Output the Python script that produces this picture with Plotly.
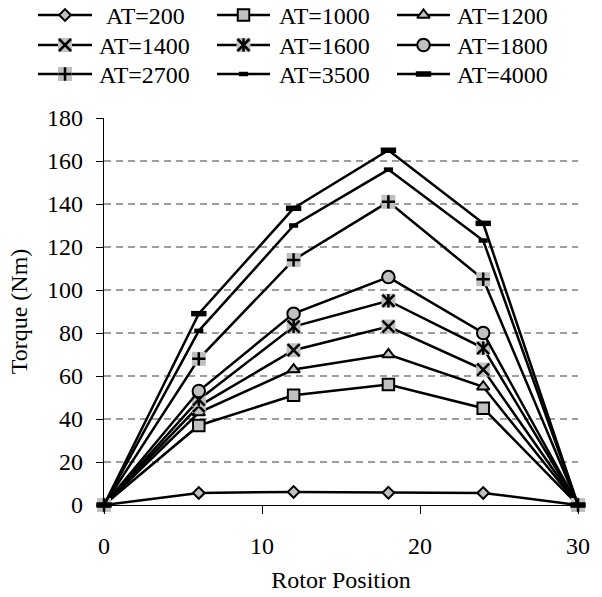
import plotly.graph_objects as go

# ---------------- data ----------------
positions = [0, 6, 12, 18, 24, 30]
series_names = ["AT=200", "AT=1000", "AT=1200", "AT=1400", "AT=1600",
                "AT=1800", "AT=2700", "AT=3500", "AT=4000"]
at200 = [0, 5.6, 6.1, 5.7, 5.6, 0]
at1000 = [0, 37, 51, 56, 45, 0]
at1200 = [0, 43, 63, 70, 55, 0]
at1400 = [0, 46, 72, 83, 63, 0]
at1600 = [0, 49, 83, 95, 73, 0]
at1800 = [0, 53, 89, 106, 80, 0]
at2700 = [0, 68, 114, 141, 105, 0]
at3500 = [0, 81, 130, 156, 123, 0]
at4000 = [0, 89, 138, 165, 131, 0]
series_values = [at200, at1000, at1200, at1400, at1600, at1800, at2700, at3500, at4000]
y_ticks = [0, 20, 40, 60, 80, 100, 120, 140, 160, 180]
x_ticks = [0, 10, 20, 30]
grid_values = [20, 40, 60, 80, 100, 120, 140, 160]

# ---------------- styles ----------------
FONT = "Liberation Serif"
GRAY = "#c0c0c0"
BLK = "black"
OUT = dict(color=BLK, width=2)


def sq_bg(size=14):
    return dict(symbol="square", size=size, color=GRAY, line=dict(width=0))


marker_styles = [
    [dict(symbol="diamond", size=9, color=GRAY, line=OUT)],
    [dict(symbol="square", size=11.5, color=GRAY, line=OUT)],
    [dict(symbol="triangle-up", size=11, color=GRAY, line=OUT)],
    [sq_bg(14), dict(symbol="x-thin", size=12, color=BLK, line=dict(color=BLK, width=2.5))],
    [sq_bg(14), dict(symbol="x-thin", size=12, color=BLK, line=dict(color=BLK, width=2.5)),
     dict(symbol="line-ns", size=9.5, color=BLK, line=dict(color=BLK, width=2.5))],
    [dict(symbol="circle", size=12.5, color=GRAY, line=OUT)],
    [sq_bg(14), dict(symbol="cross-thin", size=9.5, color=BLK, line=dict(color=BLK, width=2.5))],
    [dict(symbol="line-ew", size=6.5, color=BLK, line=dict(color=BLK, width=4.5))],
    [dict(symbol="line-ew", size=11, color=BLK, line=dict(color=BLK, width=5.5))],
]

W, H = 602, 597
fig = go.Figure()

# ---------------- main series ----------------
for name, vals, style in zip(series_names, series_values, marker_styles):
    fig.add_trace(go.Scatter(x=positions, y=vals, mode="lines", name=name,
                             line=dict(color=BLK, width=2.5),
                             showlegend=False, cliponaxis=False))
    for lay in style:
        fig.add_trace(go.Scatter(x=positions, y=vals, mode="markers", name=name,
                                 marker=lay, showlegend=False, cliponaxis=False))

for g in grid_values:
    fig.add_hline(y=g, line=dict(color="#7f7f7f", width=1.3, dash="7px,5px"), layer="below")

# ---------------- custom legend (drawn on its own axes) ----------------
LEG_H = 110
leg_line_cols = [(38, 92), (217, 270), (397, 450)]
leg_text_x = [97, 277, 455]
leg_rows = [15, 45, 74]
for i, (name, style) in enumerate(zip(series_names, marker_styles)):
    r, c = divmod(i, 3)
    x0, x1 = leg_line_cols[c]
    yy = leg_rows[r]
    fig.add_trace(go.Scatter(x=[x0, x1], y=[yy, yy], xaxis="x2", yaxis="y2", mode="lines",
                             line=dict(color=BLK, width=2.5), showlegend=False,
                             cliponaxis=False, hoverinfo="skip"))
    for lay in style:
        fig.add_trace(go.Scatter(x=[(x0 + x1) / 2], y=[yy], xaxis="x2", yaxis="y2",
                                 mode="markers", marker=lay, showlegend=False,
                                 cliponaxis=False, hoverinfo="skip"))
    tx = leg_text_x[c] + (7 if i == 0 else 0)
    fig.add_annotation(x=tx, y=yy + 1, xref="x2", yref="y2", text=name, showarrow=False,
                       xanchor="left", yanchor="middle",
                       font=dict(family=FONT, size=24, color=BLK))

fig.update_layout(
    width=W, height=H, autosize=False,
    margin=dict(l=0, r=0, t=0, b=0),
    paper_bgcolor="white", plot_bgcolor="rgba(0,0,0,0)",
    font=dict(family=FONT, size=24, color=BLK),
    xaxis=dict(domain=[104 / W, 578 / W], range=[0, 30], tickvals=x_ticks,
               showgrid=False, zeroline=False, showline=True, linecolor=BLK, linewidth=1.3,
               ticks="outside", ticklen=8, tickwidth=1.3, tickcolor=BLK,
               ticklabelstandoff=11, automargin=False,
               tickfont=dict(family=FONT, size=24, color=BLK),
               title=dict(text="Rotor Position", standoff=13, font=dict(family=FONT, size=24))),
    yaxis=dict(domain=[92 / H, 479 / H], range=[0, 180], tickvals=y_ticks,
               showgrid=False, zeroline=False, showline=True, linecolor=BLK, linewidth=1.3,
               ticks="outside", ticklen=7, tickwidth=1.3, tickcolor=BLK,
               ticklabelstandoff=8, automargin=False,
               tickfont=dict(family=FONT, size=24, color=BLK),
               title=dict(text="Torque (Nm)", standoff=12, font=dict(family=FONT, size=24))),
    xaxis2=dict(domain=[0, 1], range=[0, W], visible=False, anchor="y2", fixedrange=True),
    yaxis2=dict(domain=[1 - LEG_H / H, 1], range=[LEG_H, 0], visible=False, anchor="x2",
                fixedrange=True),
)

fig.write_html("out.html")
